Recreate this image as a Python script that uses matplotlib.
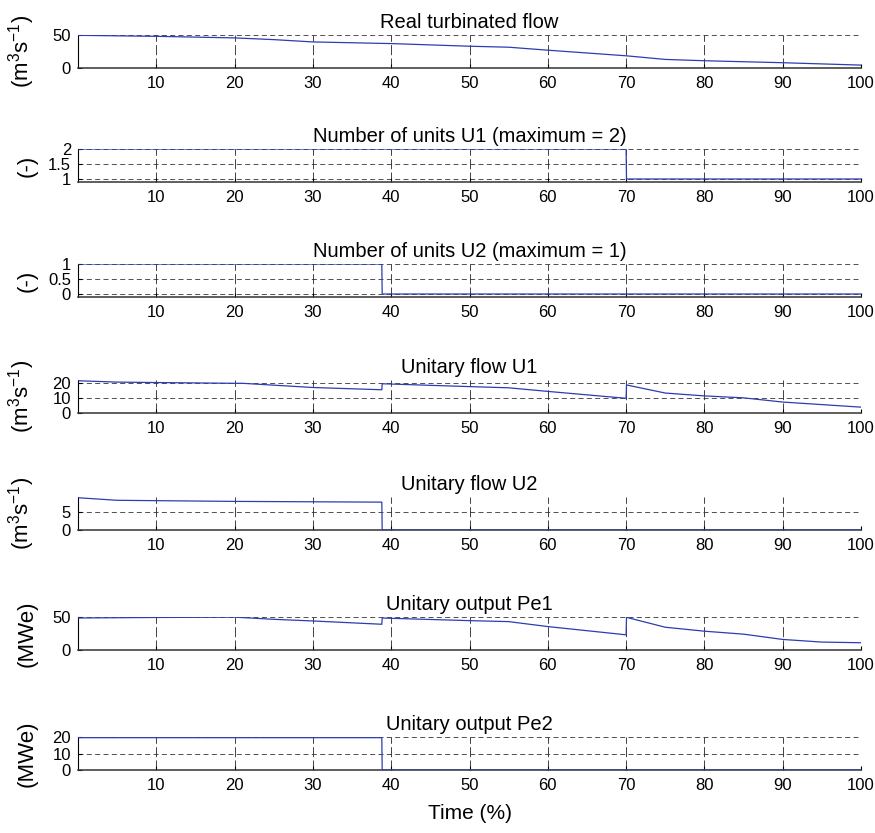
import matplotlib.pyplot as plt

plt.rcParams['font.family'] = ['Liberation Sans', 'DejaVu Sans']
plt.rcParams['mathtext.default'] = 'regular'

# time axis knots (%), jumps are written as two close points
t_flow = [0, 10, 20, 25, 30, 40, 50, 55, 60, 70, 75, 80, 90, 100]
q_flow = [49.5, 48, 45.6, 43, 39.5, 37, 33, 31.5, 27, 18.5, 13, 11, 8, 4.4]

t_n1 = [0, 70, 70.05, 100]
n_u1 = [2, 2, 1, 1]

t_n2 = [0, 38.8, 38.85, 100]
n_u2 = [1, 1, 0, 0]

t_q1 = [0, 5, 10, 20, 21, 30, 38.8, 38.85, 40, 50, 55, 60, 70, 70.05, 75, 80, 85, 90, 100]
q_u1 = [21.5, 20.6, 20.3, 19.8, 19.8, 17, 15.5, 19.5, 19.3, 17.6, 16.8, 14.4, 9.8, 18.7, 13.3, 11.4, 10.1, 7.3, 3.9]

t_q2 = [0, 5, 20, 38.8, 38.85, 100]
q_u2 = [8.8, 8.1, 7.8, 7.6, 0, 0]

t_p1 = [0, 10, 20, 25, 30, 38.8, 38.85, 40, 50, 55, 60, 70, 70.05, 75, 80, 85, 90, 95, 100]
p_e1 = [48.5, 49.3, 49.8, 46.5, 44, 39, 48.5, 48, 44.5, 43, 35.5, 23, 49.5, 34.5, 28.5, 24, 16, 12, 11]

t_p2 = [0, 38.8, 38.85, 100]
p_e2 = [19.6, 19.6, 0, 0]

flow_unit = '(m$^{3}$s$^{-1}$)'
panels = [
    (t_flow, q_flow, 'Real turbinated flow', flow_unit, (0, 50), [0, 50]),
    (t_n1, n_u1, 'Number of units U1 (maximum = 2)', '(-)', (0.9, 2), [1, 1.5, 2]),
    (t_n2, n_u2, 'Number of units U2 (maximum = 1)', '(-)', (-0.1, 1), [0, 0.5, 1]),
    (t_q1, q_u1, 'Unitary flow U1', flow_unit, (0, 22), [0, 10, 20]),
    (t_q2, q_u2, 'Unitary flow U2', flow_unit, (0, 9), [0, 5]),
    (t_p1, p_e1, 'Unitary output Pe1', '(MWe)', (0, 50), [0, 50]),
    (t_p2, p_e2, 'Unitary output Pe2', '(MWe)', (0, 20), [0, 10, 20]),
]

W, H = 875, 833
fig = plt.figure(figsize=(W / 100, H / 100), dpi=100)

left, right = 78, 861
ax_h = 33
bottoms = [68, 182, 297, 413, 530, 650, 770]
for k, (t, y, title, ylab, ylim, yticks) in enumerate(panels):
    ax = fig.add_axes([left / W, 1 - bottoms[k] / H, (right - left) / W, ax_h / H])
    ax.plot(t, y, color='#2b3db0', lw=0.9, zorder=3)
    ax.set_xlim(0, 100)
    ax.set_ylim(*ylim)
    ax.set_xticks(range(10, 101, 10))
    ax.set_yticks(yticks)
    ax.set_yticklabels([f'{v:g}' for v in yticks])
    for xv in range(10, 101, 10):
        ax.axvline(xv, color='#222222', lw=0.6, ls=(0, (12, 4)), zorder=1)
    for yv in yticks:
        ax.axhline(yv, color='#333333', lw=0.6, ls=(0, (6, 4)), zorder=1)
    ax.spines['top'].set_visible(False)
    ax.spines['right'].set_visible(False)
    ax.spines['bottom'].set_linewidth(1.1)
    ax.spines['bottom'].set_color('#333333')
    ax.spines['left'].set_linewidth(0.8)
    ax.tick_params(direction='in', length=3, labelsize=12, pad=5)
    ax.tick_params(axis='x', pad=6)
    ax.set_title(title, fontsize=14.5, pad=5)
    ax.set_ylabel(ylab, fontsize=16)
    ax.yaxis.set_label_coords(-0.052, 0.5)

ax.set_xlabel('Time (%)', fontsize=15, labelpad=8)

fig.savefig('out.png', dpi=100)
